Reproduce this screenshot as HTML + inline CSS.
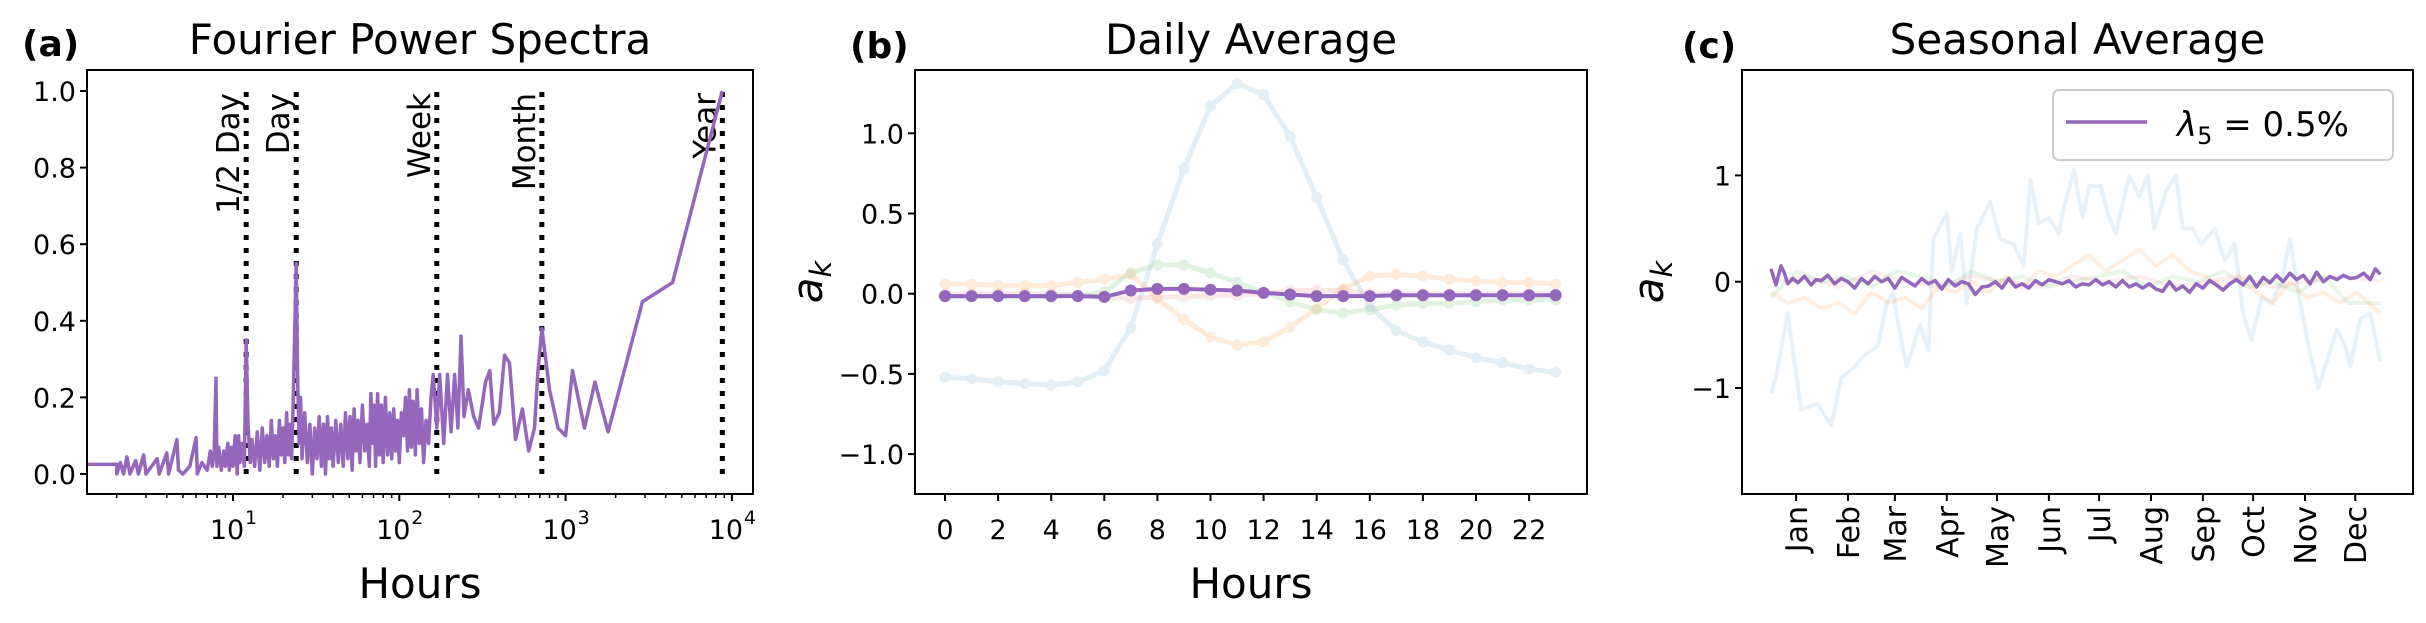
<!DOCTYPE html>
<html><head><meta charset="utf-8"><style>
body{margin:0;background:#fff;}
svg{display:block;font-family:"DejaVu Sans","Liberation Sans",sans-serif;}
</style></head><body>
<svg id="fig" width="2426" height="623" viewBox="0 0 2426 623" xmlns="http://www.w3.org/2000/svg">
<rect width="2426" height="623" fill="#fff"/>
<g id="pa"></g>
<g id="pb"></g>
<g id="pc"></g>
</svg>
<script>
// ---------- Panel (a) data ----------
const specHours = [
1.3,2.0,2.0,2.1,2.2,2.3,2.4,2.6,2.7,2.9,
3.0,3.5,3.6,4.0,4.1,4.6,4.7,5.0,5.5,6.0,
6.1,6.5,7.0,7.3,7.5,7.7,7.9,8.0,8.2,8.5,
8.8,9.0,9.3,9.5,9.8,10,10.3,10.6,10.8,11.0,
11.3,11.7,12,12.3,12.7,13.0,13.5,14,14.5,15,
15.5,16,16.5,17,17.5,18,18.5,19,19.5,20,
20.5,21,21.5,22,22.5,23,24,24.5,25,25.5,
26,27,28,29,30,31,32,33,34,35,
36,37,38,39,40,41.5,43,44.5,46,47.5,
49,50.5,52,53.5,55,56.5,58,60,62,64,
66,67.5,69,70.5,72,74,76,78,80,82.5,
85,87.5,90,92.5,95,97.5,100,103,106,109,
112,115,118,121,125,128,132,136,140,145,
150,155,160,168,175,185,195,205,215,225,
235,245,260,280,300,330,350,370,400,430,
460,500,550,600,650,680,720,800,900,1000,
1100,1300,1500,1800,2900,4400,8760];
const specPower = [
0.025,0.025,0.0,0.03,0.0,0.045,0.0,0.035,0.0,0.05,
0.0,0.04,0.0,0.055,0.0,0.09,0.01,0.0,0.02,0.095,
0.0,0.03,0.01,0.06,0.02,0.05,0.25,0.02,0.07,0.01,
0.06,0.02,0.08,0.01,0.07,0.02,0.1,0.0,0.1,0.03,
0.08,0.02,0.35,0.13,0.03,0.09,0.02,0.11,0.01,0.12,
0.03,0.1,0.02,0.14,0.04,0.1,0.02,0.14,0.05,0.12,
0.03,0.16,0.05,0.13,0.04,0.19,0.55,0.24,0.08,0.2,
0.04,0.16,0.03,0.13,0.0,0.12,0.04,0.15,0.02,0.13,
0.0,0.15,0.04,0.12,0.02,0.14,0.03,0.13,0.02,0.16,
0.04,0.15,0.01,0.17,0.06,0.14,0.03,0.18,0.06,0.13,
0.02,0.21,0.08,0.18,0.02,0.21,0.05,0.18,0.03,0.2,
0.05,0.16,0.04,0.17,0.06,0.14,0.03,0.16,0.1,0.2,
0.06,0.22,0.07,0.19,0.05,0.22,0.08,0.17,0.03,0.14,
0.08,0.2,0.26,0.12,0.26,0.08,0.26,0.11,0.26,0.12,
0.36,0.15,0.22,0.15,0.12,0.24,0.27,0.13,0.16,0.31,
0.29,0.09,0.17,0.06,0.12,0.26,0.38,0.22,0.12,0.10,
0.27,0.12,0.24,0.11,0.45,0.50,1.0];
const periodNames = ["1/2 Day","Day","Week","Month","Year"];
const periodHours = [12,24,168,720,8760];
const aYTicks = [0.0,0.2,0.4,0.6,0.8,1.0];
const aXDecades = [1,2,3,4];

// ---------- Panel (b) data ----------
const hours = [0,1,2,3,4,5,6,7,8,9,10,11,12,13,14,15,16,17,18,19,20,21,22,23];
const dailyBlue = [-0.52,-0.53,-0.55,-0.56,-0.57,-0.55,-0.48,-0.21,0.31,0.78,1.17,1.31,1.24,0.98,0.60,0.21,-0.08,-0.23,-0.30,-0.35,-0.40,-0.43,-0.47,-0.49];
const dailyOrange = [0.06,0.06,0.05,0.05,0.05,0.07,0.09,0.12,-0.03,-0.16,-0.27,-0.32,-0.30,-0.21,-0.09,0.03,0.11,0.12,0.11,0.09,0.08,0.07,0.07,0.06];
const dailyGreen = [-0.02,-0.02,-0.02,-0.02,-0.02,-0.01,0.01,0.13,0.18,0.18,0.13,0.07,0.01,-0.05,-0.10,-0.12,-0.10,-0.07,-0.06,-0.06,-0.05,-0.04,-0.04,-0.04];
const dailyRed = [0.0,0.0,0.0,0.0,0.0,-0.01,-0.02,-0.03,-0.02,-0.02,-0.01,-0.01,0.0,0.02,0.02,0.02,0.0,0.0,0.0,0.0,0.0,0.0,0.0,0.0];
const dailyPurple = [-0.015,-0.015,-0.015,-0.015,-0.015,-0.015,-0.02,0.02,0.03,0.03,0.025,0.02,0.005,-0.005,-0.015,-0.015,-0.015,-0.01,-0.01,-0.01,-0.01,-0.01,-0.01,-0.01];
const bXTicks = [0,2,4,6,8,10,12,14,16,18,20,22];
const bYTicks = [-1.0,-0.5,0.0,0.5,1.0];

// ---------- Panel (c) data ----------
const blueDays = [0,3,10,14,18,28,36,42,50,55,64,69,73,76,81,89,94,97,105,108,113,117,123,131,137,145,151,155,160,166,172,175,181,186,190,197,201,206,214,220,225,229,236,242,246,252,257,265,271,277,282,287,293,299,305,310,315,321,327,331,338,343,346,352,358,364];
const blueVals = [-1.05,-0.9,-0.3,-0.75,-1.2,-1.15,-1.35,-0.9,-0.8,-0.7,-0.6,-0.2,-0.1,-0.4,-0.8,-0.4,-0.65,0.4,0.65,0.1,0.45,-0.2,0.5,0.75,0.4,0.35,0.15,0.95,0.55,0.6,0.45,0.7,1.05,0.6,0.9,0.9,0.65,0.45,1.0,0.8,1.0,0.5,0.85,1.0,0.5,0.5,0.35,0.5,0.2,0.35,-0.3,-0.55,-0.15,-0.2,0.0,0.4,-0.1,-0.6,-1.0,-0.8,-0.45,-0.6,-0.8,-0.35,-0.3,-0.75];
const orangeDays = [0,10,20,30,40,50,60,70,80,90,100,110,120,130,140,150,160,170,180,190,200,210,220,230,240,250,260,270,280,290,300,310,320,330,340,350,364];
const orangeVals = [-0.1,-0.2,-0.15,-0.25,-0.2,-0.3,-0.1,-0.2,-0.15,-0.25,-0.05,-0.1,0.0,-0.1,0.05,-0.05,0.1,0.05,0.15,0.25,0.1,0.2,0.3,0.15,0.25,0.1,0.05,-0.05,0.05,-0.1,-0.2,0.0,-0.15,-0.1,-0.2,-0.1,-0.3];
const greenDays = [0,15,30,45,60,75,90,105,120,135,150,165,180,195,210,225,240,255,270,285,300,315,330,345,364];
const greenVals = [-0.15,0.1,0.0,0.05,-0.05,0.1,0.05,-0.05,0.1,0.0,0.05,-0.05,0.0,0.05,0.1,-0.05,0.05,0.0,0.1,-0.05,0.0,-0.1,0.05,-0.2,-0.2];
const redDays = [0,20,40,60,80,100,120,140,160,180,200,220,240,260,280,300,320,340,364];
const redVals = [0.0,0.05,-0.05,0.1,0.0,-0.05,0.05,0.0,-0.05,0.05,0.0,0.05,-0.05,0.0,0.05,-0.05,0.0,0.05,0.0];
const purpleDays = [0,3,6,8,10,13,16,20,24,27,30,34,38,42,46,50,54,58,62,66,70,74,78,82,86,90,94,98,102,106,110,114,118,122,126,130,134,138,142,146,150,154,158,162,166,170,174,178,182,186,190,194,198,202,206,210,214,218,222,226,230,234,238,242,246,250,254,258,262,266,270,274,278,282,286,290,294,298,302,306,310,314,318,322,326,330,334,338,342,346,350,354,358,361,364];
const purpleVals = [0.12,-0.03,0.15,0.08,-0.02,0.03,-0.01,0.05,-0.03,0.02,0.01,0.06,-0.02,0.03,0.0,-0.06,0.03,-0.02,0.05,0.0,0.03,-0.06,0.04,0.0,-0.04,0.03,-0.02,0.01,-0.07,0.02,-0.04,0.0,-0.02,-0.12,-0.05,-0.04,0.0,-0.06,0.03,-0.05,-0.02,-0.06,0.01,-0.03,0.02,0.0,-0.02,0.01,-0.05,-0.02,-0.03,0.02,-0.03,0.0,-0.05,0.01,-0.05,-0.02,-0.06,-0.02,-0.07,-0.09,0.0,-0.08,-0.04,-0.10,-0.02,-0.06,0.01,-0.03,-0.08,-0.02,0.02,-0.03,0.05,-0.05,0.04,-0.01,0.06,0.0,0.08,0.02,0.06,-0.02,0.09,0.0,0.05,0.02,0.06,0.03,0.04,0.08,0.02,0.12,0.07];
const months = ["Jan","Feb","Mar","Apr","May","Jun","Jul","Aug","Sep","Oct","Nov","Dec"];
const monthDays = [15,46,74,105,135,166,196,227,258,288,319,349];
const cYTicks = [-1,0,1];

const NS = "http://www.w3.org/2000/svg";
function mk(parent, tag, attrs, txt){
  const e = document.createElementNS(NS, tag);
  for (const k in attrs) e.setAttribute(k, attrs[k]);
  if (txt !== undefined) e.textContent = txt;
  parent.appendChild(e); return e;
}
const TICKF = 27, LABF = 42;

// ======== Panel (a) ========
{
  const g = document.getElementById('pa');
  const L=87,R=753,T=70,B=494;
  const xa = h => 233 + 166.3*(Math.log10(h)-1);
  const ya = v => 474 - 383*v;
  const clip = mk(g,'clipPath',{id:'clipA'}); mk(clip,'rect',{x:L,y:T,width:R-L,height:B-T});
  periodHours.forEach((h,i)=>{
    const ln = mk(g,'line',{x1:xa(h),x2:xa(h),y1:ya(0),y2:ya(1.0),stroke:'#000','stroke-width':5,'stroke-dasharray':'5 8'});
    
    
    const t = mk(g,'text',{transform:`translate(${xa(h)-7},${ya(1.0)+2}) rotate(-90)`,'text-anchor':'end','font-size':31},periodNames[i]);
    
    
  });
  const n = Math.min(specHours.length, specPower.length);
  const pts = specHours.slice(0,n).map((h,i)=>xa(h).toFixed(1)+','+ya(specPower[i]).toFixed(1)).join(' ');
  const pl = mk(g,'polyline',{points:pts,fill:'none',stroke:'#9467bd','stroke-width':3.5,'stroke-linejoin':'round','clip-path':'url(#clipA)'});
  
  
  mk(g,'rect',{x:L,y:T,width:R-L,height:B-T,fill:'none',stroke:'#000','stroke-width':2});
  aYTicks.forEach(v=>{
    mk(g,'line',{x1:L-7,x2:L,y1:ya(v),y2:ya(v),stroke:'#000','stroke-width':2});
    const t = mk(g,'text',{x:L-11,y:ya(v)+10,'text-anchor':'end','font-size':TICKF},v.toFixed(1));
    
    
  });
  for (let d=0; d<=4; d++){
    for (let m=1;m<=9;m++){
      const h = m*Math.pow(10,d); const x=xa(h);
      if (x<L||x>R) continue;
      mk(g,'line',{x1:x,x2:x,y1:B,y2:B+(m===1?7:4),stroke:'#000','stroke-width':m===1?2:1.5});
    }
  }
  aXDecades.forEach(d=>{
    const t = mk(g,'text',{x:xa(Math.pow(10,d))-6,y:B+45,'text-anchor':'middle','font-size':TICKF},'10');
    
    
    mk(g,'text',{x:xa(Math.pow(10,d))+12,y:B+30,'font-size':19},String(d));
  });
  const xl = mk(g,'text',{x:(L+R)/2,y:598,'text-anchor':'middle','font-size':LABF},'Hours');
  
  
  const tt = mk(g,'text',{x:(L+R)/2,y:54,'text-anchor':'middle','font-size':LABF},'Fourier Power Spectra');
  
  
  const pl2 = mk(g,'text',{x:22,y:56,'font-size':36,'font-weight':'bold'},'(a)');
  
  
}

// ======== Panel (b) ========
{
  const g = document.getElementById('pb');
  const L=915,R=1587,T=70,B=494;
  const xb = h => 945 + 26.55*h;
  const yb = v => 293.7 - 160.4*v;
  const series = [[dailyBlue,'#1f77b4',0.12],[dailyOrange,'#ff7f0e',0.15],[dailyGreen,'#2ca02c',0.13],[dailyRed,'#d62728',0.1],[dailyPurple,'#9467bd',1]];
  const names = ['daily-blue','daily-orange','daily-green','daily-red','daily-purple'];
  series.forEach(([vals,c,a],si)=>{
    const sg = mk(g,'g',{opacity:a});
    
    
    mk(sg,'polyline',{points:hours.map((h,i)=>xb(h)+','+yb(vals[i])).join(' '),fill:'none',stroke:c,'stroke-width':si===4?4:5,'stroke-linejoin':'round'});
    hours.forEach((h,i)=>{
      const p = mk(sg,'circle',{cx:xb(h),cy:yb(vals[i]),r:si===4?6:5.5,fill:c});
      
      
    });
  });
  mk(g,'rect',{x:L,y:T,width:R-L,height:B-T,fill:'none',stroke:'#000','stroke-width':2});
  bYTicks.forEach(v=>{
    mk(g,'line',{x1:L-7,x2:L,y1:yb(v),y2:yb(v),stroke:'#000','stroke-width':2});
    const t = mk(g,'text',{x:L-11,y:yb(v)+10,'text-anchor':'end','font-size':TICKF},(v<0?'\u2212':'')+Math.abs(v).toFixed(1));
    
    
  });
  bXTicks.forEach(h=>{
    mk(g,'line',{x1:xb(h),x2:xb(h),y1:B,y2:B+7,stroke:'#000','stroke-width':2});
    const t = mk(g,'text',{x:xb(h),y:B+45,'text-anchor':'middle','font-size':TICKF},String(h));
    
    
  });
  const xl = mk(g,'text',{x:(L+R)/2,y:598,'text-anchor':'middle','font-size':LABF},'Hours');
  
  
  const yl = mk(g,'text',{transform:'translate(822,282) rotate(-90)','text-anchor':'middle','font-size':LABF,'font-style':'italic'});
  
  
  mk(yl,'tspan',{},'a'); mk(yl,'tspan',{'font-size':29,dy:9},'k');
  const tt = mk(g,'text',{x:(L+R)/2,y:54,'text-anchor':'middle','font-size':LABF},'Daily Average');
  
  
  const pl2 = mk(g,'text',{x:850,y:58,'font-size':36,'font-weight':'bold'},'(b)');
  
  
}

// ======== Panel (c) ========
{
  const g = document.getElementById('pc');
  const L=1742,R=2413,T=70,B=494;
  const xc = d => 1771 + 1.674*d;
  const yc = v => 281.7 - 106.3*v;
  const series = [[blueDays,blueVals,'#1f77b4',0.1],[orangeDays,orangeVals,'#ff7f0e',0.12],[greenDays,greenVals,'#2ca02c',0.1],[redDays,redVals,'#d62728',0.08],[purpleDays,purpleVals,'#9467bd',1]];
  const names = ['seasonal-blue','seasonal-orange','seasonal-green','seasonal-red','seasonal-purple'];
  series.forEach(([ds,vs,c,a],si)=>{
    const pl = mk(g,'polyline',{points:ds.map((d,i)=>xc(d).toFixed(1)+','+yc(vs[i]).toFixed(1)).join(' '),fill:'none',stroke:c,'stroke-width':si===4?3.5:4,opacity:a,'stroke-linejoin':'round'});
    
    
  });
  mk(g,'rect',{x:L,y:T,width:R-L,height:B-T,fill:'none',stroke:'#000','stroke-width':2});
  cYTicks.forEach(v=>{
    mk(g,'line',{x1:L-7,x2:L,y1:yc(v),y2:yc(v),stroke:'#000','stroke-width':2});
    const t = mk(g,'text',{x:L-11,y:yc(v)+10,'text-anchor':'end','font-size':TICKF},(v<0?'\u2212':'')+Math.abs(v));
    
    
  });
  months.forEach((m,i)=>{
    const x = xc(monthDays[i]);
    mk(g,'line',{x1:x,x2:x,y1:B,y2:B+7,stroke:'#000','stroke-width':2});
    const t = mk(g,'text',{transform:`translate(${x+11},${B+12}) rotate(-90)`,'text-anchor':'end','font-size':30},m);
    
    
  });
  const yl = mk(g,'text',{transform:'translate(1663,282) rotate(-90)','text-anchor':'middle','font-size':LABF,'font-style':'italic'});
  
  
  mk(yl,'tspan',{},'a'); mk(yl,'tspan',{'font-size':29,dy:9},'k');
  const tt = mk(g,'text',{x:(L+R)/2,y:54,'text-anchor':'middle','font-size':LABF},'Seasonal Average');
  
  
  const pl2 = mk(g,'text',{x:1682,y:58,'font-size':36,'font-weight':'bold'},'(c)');
  
  
  const lg = mk(g,'g',{});
  
  
  mk(lg,'rect',{x:2053,y:90,width:340,height:70,rx:6,fill:'#fff','fill-opacity':0.8,stroke:'#ccc','stroke-width':2});
  mk(lg,'line',{x1:2066,x2:2147,y1:122,y2:122,stroke:'#9467bd','stroke-width':3.5});
  const lt = mk(lg,'text',{x:2177,y:136,'font-size':34});
  
  
  mk(lt,'tspan',{'font-style':'italic'},'λ'); mk(lt,'tspan',{'font-size':24,dy:8},'5'); mk(lt,'tspan',{dy:-8},' = 0.5%');
}
</script>
</body></html>
